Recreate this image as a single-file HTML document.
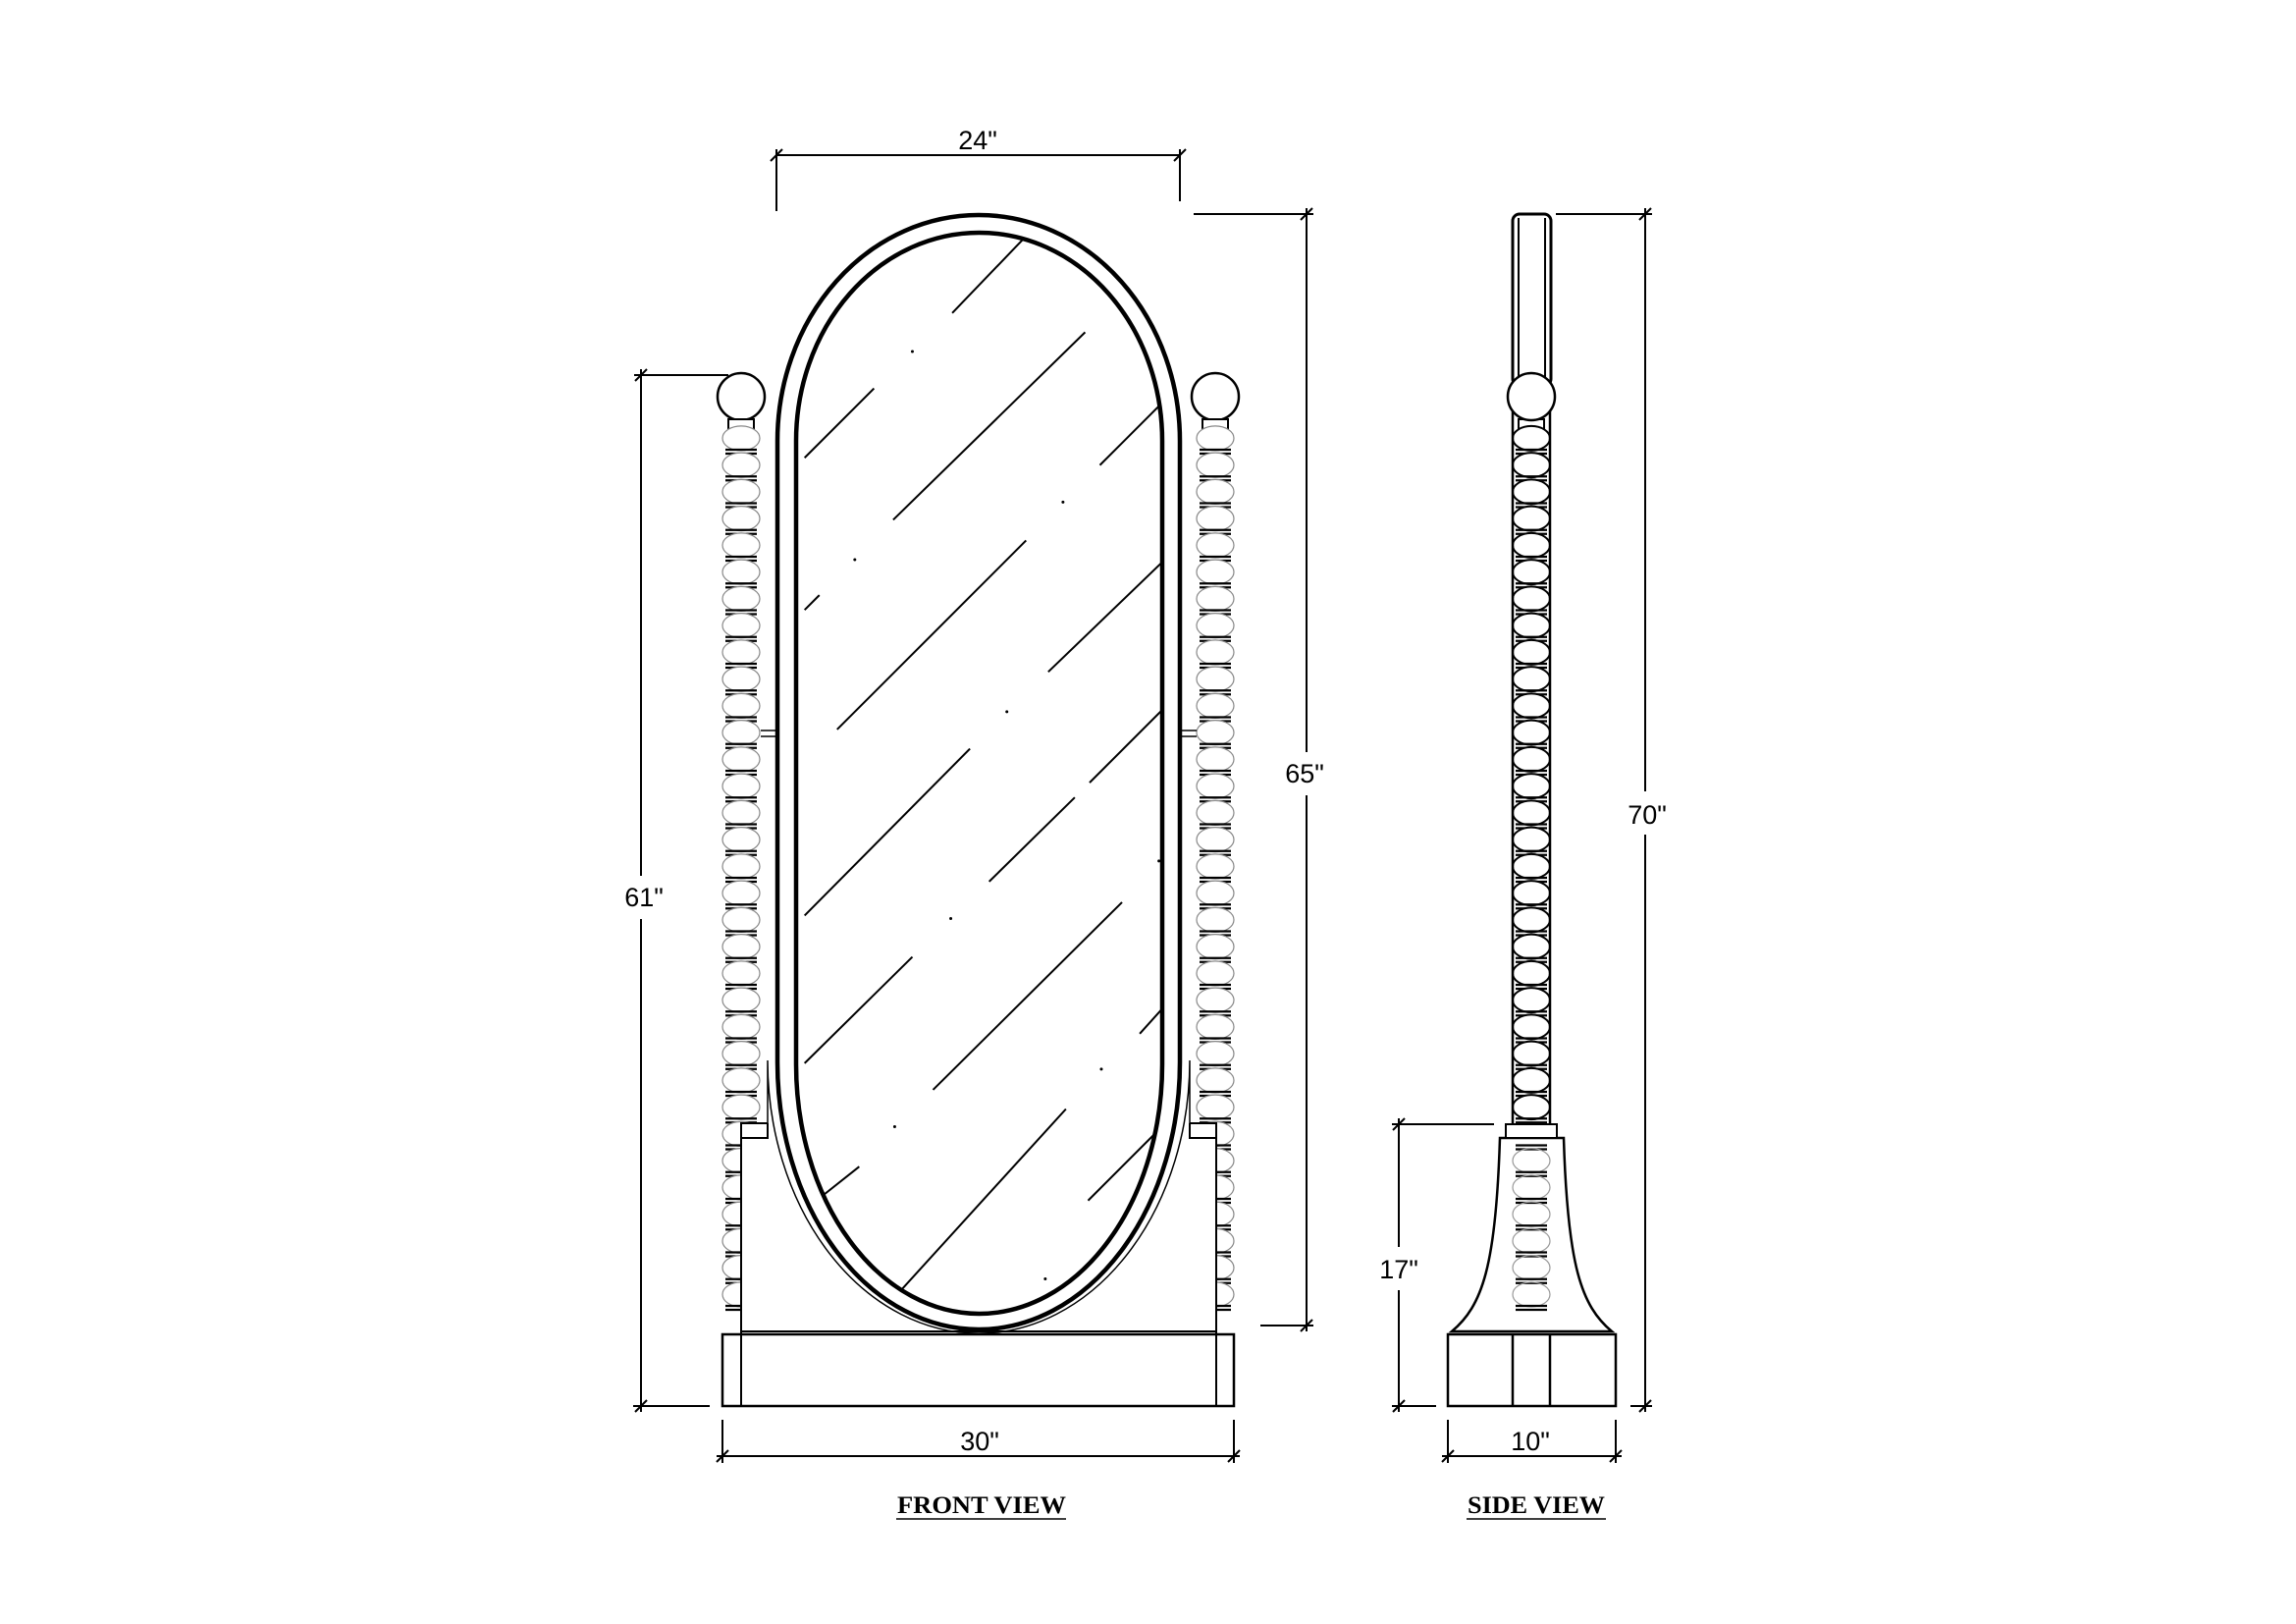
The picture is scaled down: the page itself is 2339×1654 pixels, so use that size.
<!DOCTYPE html>
<html><head><meta charset="utf-8"><style>
html,body{margin:0;padding:0;background:#fff;}
svg{display:block;}
.d{font-family:"Liberation Sans",sans-serif;font-size:27px;fill:#000;}
.t{font-family:"Liberation Serif",serif;font-weight:bold;font-size:25px;fill:#000;}
</style></head><body>
<svg id="s" width="2339" height="1654" viewBox="0 0 2339 1654" xmlns="http://www.w3.org/2000/svg">
<defs>
<clipPath id="glass"><path d="M811,449 A186.5,212 0 0 1 1184,449 L1184,1084 A186.5,254 0 0 1 811,1084 Z"/></clipPath>
</defs>
<g id="spL"></g><g id="spR"></g>
<rect x="755" y="1159" width="484" height="198" fill="#fff" stroke="none"/>
<line x1="755" y1="1144" x2="755" y2="1432" stroke="#000" stroke-width="2"/>
<line x1="1239" y1="1144" x2="1239" y2="1432" stroke="#000" stroke-width="2"/>
<rect x="755" y="1144" width="27" height="15" fill="#fff" stroke="#000" stroke-width="2"/>
<rect x="1212" y="1144" width="27" height="15" fill="#fff" stroke="#000" stroke-width="2"/>
<path d="M782,1144 L782,1080 A215,278 0 0 0 1212,1080 L1212,1144" fill="#fff" stroke="#000" stroke-width="1.5"/>
<rect x="736" y="1359" width="521" height="73" fill="#fff" stroke="#000" stroke-width="2.5"/>
<line x1="755" y1="1356" x2="1239" y2="1356" stroke="#000" stroke-width="2"/>
<line x1="755" y1="1359" x2="755" y2="1432" stroke="#000" stroke-width="2"/>
<line x1="1239" y1="1359" x2="1239" y2="1432" stroke="#000" stroke-width="2"/>
<g stroke="#000" stroke-width="1.5"><line x1="775" y1="744" x2="792" y2="744"/><line x1="775" y1="750" x2="792" y2="750"/><line x1="1202" y1="744" x2="1219" y2="744"/><line x1="1202" y1="750" x2="1219" y2="750"/></g>
<path d="M792,449 A205,230 0 0 1 1202,449 L1202,1082 A205,272 0 0 1 792,1082 Z" fill="#fff" stroke="#000" stroke-width="4.5"/>
<path d="M811,449 A186.5,212 0 0 1 1184,449 L1184,1084 A186.5,254 0 0 1 811,1084 Z" fill="#fff" stroke="#000" stroke-width="4.5"/>
<g id="gl" clip-path="url(#glass)" stroke="#000" stroke-width="2"></g>
<g id="spS"></g>
<rect x="1541" y="218" width="39" height="175" rx="7" fill="#fff" stroke="#000" stroke-width="3"/>
<line x1="1547" y1="222" x2="1547" y2="390" stroke="#000" stroke-width="2"/>
<line x1="1574" y1="222" x2="1574" y2="390" stroke="#000" stroke-width="2"/>
<circle cx="1560" cy="404" r="24" fill="#fff" stroke="#000" stroke-width="2.5"/>
<path d="M1528,1159 C1524,1290 1510,1330 1479,1356 L1642,1356 C1611,1330 1597,1290 1593,1159 Z" fill="#fff" stroke="#000" stroke-width="2.5"/>
<g id="spS2"></g>
<rect x="1534" y="1145" width="52" height="14" fill="#fff" stroke="#000" stroke-width="2"/>
<line x1="1479" y1="1356" x2="1642" y2="1356" stroke="#000" stroke-width="2"/>
<rect x="1475" y="1359" width="171" height="73" fill="#fff" stroke="#000" stroke-width="2.5"/>
<line x1="1541" y1="1359" x2="1541" y2="1432" stroke="#000" stroke-width="2.5"/>
<line x1="1579" y1="1359" x2="1579" y2="1432" stroke="#000" stroke-width="2.5"/>
<g id="dims" stroke="#000" stroke-width="2" fill="none"></g>
<g fill="#fff"><rect x="1310" y="766" width="42" height="44"/><rect x="1660" y="806" width="42" height="44"/><rect x="636" y="892" width="42" height="44"/><rect x="1404" y="1270" width="42" height="44"/></g>
<text class="d" x="996" y="152" text-anchor="middle">24"</text>
<text class="d" x="1329" y="797" text-anchor="middle">65"</text>
<text class="d" x="1678" y="839" text-anchor="middle">70"</text>
<text class="d" x="656" y="923" text-anchor="middle">61"</text>
<text class="d" x="1425" y="1302" text-anchor="middle">17"</text>
<text class="d" x="998" y="1477" text-anchor="middle">30"</text>
<text class="d" x="1559" y="1477" text-anchor="middle">10"</text>
<text class="t" x="1000" y="1541" text-anchor="middle" textLength="172" lengthAdjust="spacingAndGlyphs">FRONT  VIEW</text>
<line x1="913" y1="1547" x2="1086" y2="1547" stroke="#000" stroke-width="1.5"/>
<text class="t" x="1565" y="1541" text-anchor="middle" textLength="140" lengthAdjust="spacingAndGlyphs">SIDE  VIEW</text>
<line x1="1494" y1="1547" x2="1636" y2="1547" stroke="#000" stroke-width="1.5"/>
</svg>
<script>
var NS="http://www.w3.org/2000/svg";
function el(p,t,a){var e=document.createElementNS(NS,t);for(var k in a)e.setAttribute(k,a[k]);p.appendChild(e);return e;}
function spindle(g,cx,col,y0,y1,bw,knob){
  if(knob){el(g,"circle",{cx:cx,cy:404,r:24,fill:"#fff",stroke:"#000","stroke-width":2.5});}
  el(g,"rect",{x:cx-13,y:427,width:26,height:10,fill:"#fff",stroke:"#000","stroke-width":2});
  var P=27.25,b0=460;
  for(var n=0;;n++){var y=b0+P*n; if(y>y1)break;
    var mid=y-P/2;
    if(mid>y0) el(g,"ellipse",{cx:cx,cy:mid,rx:19,ry:12.5,fill:"#fff",stroke:col,"stroke-width":col=="#000"?2:1.2});
    el(g,"line",{x1:cx-16,y1:y-2,x2:cx+16,y2:y-2,stroke:"#000","stroke-width":2.2});
    el(g,"line",{x1:cx-16,y1:y+2,x2:cx+16,y2:y+2,stroke:"#000","stroke-width":2.2});
  }
}
spindle(document.getElementById("spL"),755,"#888",437,1345,1,true);
spindle(document.getElementById("spR"),1238,"#888",437,1345,1,true);
var ss=document.getElementById("spS");
spindle(ss,1560,"#000",437,1150,1,false);
el(ss,"line",{x1:1541,y1:400,x2:1541,y2:1150,stroke:"#000","stroke-width":2.5});
el(ss,"line",{x1:1579,y1:400,x2:1579,y2:1150,stroke:"#000","stroke-width":2.5});
var s2=document.getElementById("spS2");
(function(){var P=27.25,b0=460;for(var n=0;;n++){var y=b0+P*n;if(y>1345)break;var mid=y-P/2;
 if(mid>1165&&mid<1345) el(s2,"ellipse",{cx:1560,cy:mid,rx:19,ry:12.5,fill:"none",stroke:"#999","stroke-width":1.2});
 if(y>1165){el(s2,"line",{x1:1544,y1:y-2,x2:1576,y2:y-2,stroke:"#000","stroke-width":2.2});el(s2,"line",{x1:1544,y1:y+2,x2:1576,y2:y+2,stroke:"#000","stroke-width":2.2});}}})();
var gl=document.getElementById("gl"),k=1.504;
var L=[[645,212,693,162],[545,310,592,263],[605,352,735,225],[745,315,787,273],[545,413,555,403],[567,494,695,366],[710,455,790,378],[545,620,657,507],[738,530,790,478],[670,597,728,540],[545,720,618,648],[632,738,760,611],[772,700,790,680],[553,813,582,790],[600,885,722,751],[737,813,790,760]];
L.forEach(function(a){el(gl,"line",{x1:a[0]*k,y1:a[1]*k,x2:a[2]*k,y2:a[3]*k});});
[[618,238],[720,340],[579,379],[682,482],[785,583],[644,622],[746,724],[606,763],[708,866]].forEach(function(p){el(gl,"circle",{cx:p[0]*k,cy:p[1]*k,r:1.5,fill:"#000",stroke:"none"});});
var d=document.getElementById("dims");
function ln(a,b,c,e){el(d,"line",{x1:a,y1:b,x2:c,y2:e});}
function tk(x,y){ln(x-6,y+6,x+6,y-6);}
ln(791,158,1202,158);ln(791,152,791,215);ln(1202,152,1202,205);tk(791,158);tk(1202,158);
ln(1331,212,1331,1356);ln(1216,218,1338,218);ln(1284,1350,1338,1350);tk(1331,218);tk(1331,1350);
ln(653,376,653,1438);ln(646,382,742,382);ln(645,1432,723,1432);tk(653,382);tk(653,1432);
ln(1676,212,1676,1438);ln(1585,218,1683,218);ln(1661,1432,1683,1432);tk(1676,218);tk(1676,1432);
ln(1425,1139,1425,1438);ln(1418,1145,1522,1145);ln(1418,1432,1463,1432);tk(1425,1145);tk(1425,1432);
ln(730,1483,1263,1483);ln(736,1446,736,1490);ln(1257,1446,1257,1490);tk(736,1483);tk(1257,1483);
ln(1469,1483,1652,1483);ln(1475,1446,1475,1490);ln(1646,1446,1646,1490);tk(1475,1483);tk(1646,1483);
</script>
</body></html>
